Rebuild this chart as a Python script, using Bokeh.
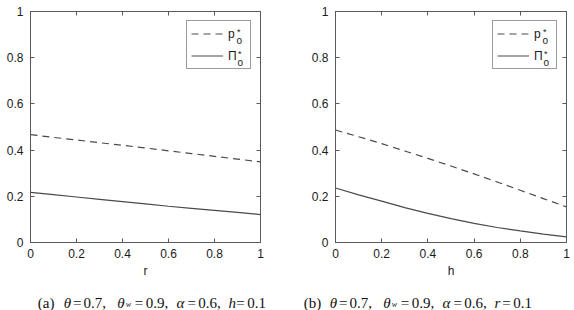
from bokeh.plotting import figure
from bokeh.models import LinearAxis, FixedTicker, Label, Legend, LegendItem
from bokeh.layouts import row, column
from bokeh.embed import file_html
from bokeh.resources import INLINE

# ---------------- data ----------------
x_vals = [0.0, 0.1, 0.2, 0.3, 0.4, 0.5, 0.6, 0.7, 0.8, 0.9, 1.0]
# panel (a): varying r
p_r = [0.467, 0.455, 0.444, 0.432, 0.421, 0.409, 0.397, 0.385, 0.373, 0.361, 0.349]
pi_r = [0.217, 0.207, 0.197, 0.187, 0.177, 0.167, 0.157, 0.148, 0.139, 0.130, 0.121]
# panel (b): varying h
p_h = [0.487, 0.458, 0.428, 0.396, 0.364, 0.331, 0.297, 0.262, 0.226, 0.190, 0.154]
pi_h = [0.236, 0.206, 0.179, 0.151, 0.126, 0.103, 0.083, 0.065, 0.050, 0.036, 0.024]
tick_vals = [0.0, 0.2, 0.4, 0.6, 0.8, 1.0]
tick_labels = ["0", "0.2", "0.4", "0.6", "0.8", "1"]
x_labels = ["r", "h"]
caption_tags = ["(a)", "(b)"]
caption_last_var = ["h", "r"]
caption_values = ["0.7,", "0.9,", "0.6,", "0.1"]

AX = "#5a5a5a"
LN = "#4a4a4a"
SANS = "Liberation Sans"
SERIF = "Liberation Serif"

H = 280          # height of each plot panel (caption strip below)
CAP_H = 30       # caption strip height
FRAME_TOP = 11
FRAME_BOTTOM = 242


def style_axis(ax, show_labels):
    ax.ticker = FixedTicker(ticks=tick_vals)
    ax.axis_line_color = AX
    ax.axis_line_width = 1
    ax.major_tick_line_color = AX
    ax.major_tick_in = 4
    ax.major_tick_out = 0
    ax.minor_tick_line_color = None
    ax.major_label_text_font = SANS
    if show_labels:
        ax.major_label_text_color = "#1a1a1a"
        ax.major_label_text_font_size = "12px"
        ax.major_label_overrides = {v: s for v, s in zip(tick_vals, tick_labels)}
    else:
        ax.major_label_text_color = None
        ax.major_label_text_font_size = "0px"
        ax.major_label_standoff = 0


def make_panel(idx, width, bl, br, pvals, pivals):
    frame_w = width - bl - br
    p = figure(width=width, height=H, x_range=(0, 1), y_range=(0, 1),
               output_backend="svg", toolbar_location=None,
               min_border_left=bl, min_border_right=br,
               min_border_top=FRAME_TOP, min_border_bottom=H - FRAME_BOTTOM,
               x_axis_label=x_labels[idx])
    p.grid.visible = False
    p.outline_line_color = AX
    p.background_fill_color = "white"
    p.border_fill_color = "white"

    style_axis(p.xaxis[0], True)
    style_axis(p.yaxis[0], True)
    p.xaxis[0].major_label_standoff = 6
    p.yaxis[0].major_label_standoff = 7
    p.xaxis[0].axis_label_text_font = SANS
    p.xaxis[0].axis_label_text_font_size = "12px"
    p.xaxis[0].axis_label_text_font_style = "normal"
    p.xaxis[0].axis_label_standoff = 3
    p.xaxis[0].axis_label_text_color = "#1a1a1a"

    top = LinearAxis()
    style_axis(top, False)
    p.add_layout(top, "above")
    right = LinearAxis()
    style_axis(right, False)
    p.add_layout(right, "right")

    r1 = p.line(x_vals, pvals, line_color=LN, line_width=1.2, line_dash="7 5")
    r2 = p.line(x_vals, pivals, line_color=LN, line_width=1.2)

    legend = Legend(items=[LegendItem(label="p", renderers=[r1]),
                           LegendItem(label="\u03a0", renderers=[r2])],
                    location="top_right", margin=9, padding=4, spacing=5,
                    glyph_width=32, glyph_height=17, label_standoff=5,
                    label_width=18, label_height=17,
                    label_text_font=SANS, label_text_font_size="12px",
                    label_text_color="#1a1a1a",
                    border_line_color="#3a3a3a", border_line_width=1,
                    background_fill_alpha=0)
    p.add_layout(legend)

    # super/subscripts in the legend; screen units are frame-relative
    # (x from frame left, y from frame bottom). Offsets from frame right / canvas top.
    for (ox, py, txt, size) in [(-23.5, 31.5, "*", "9px"), (-24.0, 39.5, "o", "10px"),
                                (-22.5, 53.0, "*", "9px"), (-23.0, 62.0, "o", "10px")]:
        lab = Label(x=frame_w + ox, y=FRAME_BOTTOM - py,
                    x_units="screen", y_units="screen",
                    text=txt, text_font=SANS, text_font_size=size,
                    text_color="#1a1a1a",
                    text_baseline="alphabetic", text_align="left")
        p.add_layout(lab)
    return p


def add_caption(cap, idx, base):
    base_y = 302 - H   # baseline in caption strip, from its top
    pieces = [
        (0.0, caption_tags[idx], "normal", "15px", 0),
        (26.0, "\u03b8", "italic", "15px", 0),
        (35.3, "=", "normal", "15px", 0),
        (45.7, caption_values[0], "normal", "15px", 0),
        (79.4, "\u03b8", "italic", "15px", 0),
        (88.0, "w", "italic", "8px", 2),
        (97.0, "=", "normal", "15px", 0),
        (108.0, caption_values[1], "normal", "15px", 0),
        (138.8, "\u03b1", "italic", "15px", 0),
        (149.7, "=", "normal", "15px", 0),
        (160.5, caption_values[2], "normal", "15px", 0),
        (190.8, caption_last_var[idx], "italic", "15px", 0),
        (198.5, "=", "normal", "15px", 0),
        (209.4, caption_values[3], "normal", "15px", 0),
    ]
    for off, txt, style, size, ddy in pieces:
        cap.add_layout(Label(x=base + off, y=CAP_H - (base_y + ddy),
                             x_units="screen", y_units="screen", text=txt,
                             text_font=SERIF, text_font_style=style,
                             text_font_size=size, text_color="#111111",
                             text_baseline="alphabetic", text_align="left"))


p1 = make_panel(0, 290, 30, 30, p_r, pi_r)
p2 = make_panel(1, 284, 45, 8, p_h, pi_h)

cap = figure(width=574, height=CAP_H, x_axis_type=None, y_axis_type=None,
             x_range=(0, 1), y_range=(0, 1),
             output_backend="svg", toolbar_location=None, min_border=0)
cap.grid.visible = False
cap.outline_line_color = None
add_caption(cap, 0, 37.3)
add_caption(cap, 1, 303.3)

layout = column(row(p1, p2, spacing=0), cap, spacing=0)
open("out.html", "w").write(file_html(layout, INLINE))
